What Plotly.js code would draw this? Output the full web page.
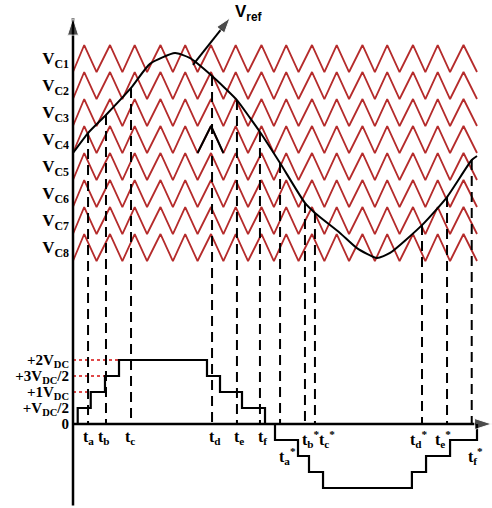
<!DOCTYPE html>
<html><head><meta charset="utf-8">
<script src="https://cdn.plot.ly/plotly-3.0.1.min.js"></script>
<style>html,body{margin:0;padding:0;background:#fff;} #chart{width:492px;height:508px;}</style>
</head><body><div id="chart"></div>
<script>
// ---------------- data (time in degrees of the reference period) ----------------
const carrierNames = ['V<sub>C1</sub>','V<sub>C2</sub>','V<sub>C3</sub>','V<sub>C4</sub>','V<sub>C5</sub>','V<sub>C6</sub>','V<sub>C7</sub>','V<sub>C8</sub>'];
const carrierBase = [3, 2, 1, 0, -1, -2, -3, -4];           // lower edge of each carrier band
const carrierPeaks = [10, 33, 55, 78, 100, 123, 145, 168, 190, 213, 235, 258, 280, 303, 325, 348];
const carrierTroughs = [0, 21, 44, 66, 89, 111, 134, 156, 179, 201, 224, 246, 269, 291, 314, 336, 360];

const vrefT = [0, 13.4, 29.4, 51.7, 68.6, 90.9, 104, 123.9, 146.1, 157.7, 166.6, 184.5, 206.7, 215.6, 237.9, 253, 270.9, 282.5, 311, 333.3, 355.3, 360];
const vrefV = [0, 0.74, 1.41, 2.41, 3.30, 3.70, 3.52, 2.85, 1.96, 1.30, 0.78, -0.37, -1.85, -2.22, -2.96, -3.52, -3.89, -3.70, -2.67, -1.63, -0.26, -0.11];

const crossT = [13.4, 29.4, 51.7, 123.9, 146.1, 166.6, 184.5, 206.7, 215.6, 311, 333.3, 355.3];
const crossV = [0.74, 1.41, 2.41, 2.85, 1.96, 0.78, -0.37, -1.85, -2.22, -2.67, -1.63, -0.26];
const timeLabels = ['t<sub>a</sub>','t<sub>b</sub>','t<sub>c</sub>','t<sub>d</sub>','t<sub>e</sub>','t<sub>f</sub>',
  't<sub>a</sub><sup>*</sup>','t<sub>b</sub><sup>*</sup>','t<sub>c</sub><sup>*</sup>','t<sub>d</sub><sup>*</sup>','t<sub>e</sub><sup>*</sup>','t<sub>f</sub><sup>*</sup>'];

const stairT = [0, 4.2, 15.8, 28.5, 41, 119.4, 131, 150.6, 171.1, 180, 200.5, 210.3, 222.8, 302, 314.6, 336, 360];
const stairV = [0, 0.5, 1, 1.5, 2, 1.5, 1, 0.5, 0, -0.5, -1, -1.5, -2, -1.5, -1, -0.5, 0];   // in V_DC

const levelVals = [0, 0.5, 1, 1.5, 2];
const levelLabels = ['0', '+V<sub>DC</sub>/2', '+1V<sub>DC</sub>', '+3V<sub>DC</sub>/2', '+2V<sub>DC</sub>'];

// ---------------- layout constants ----------------
const X_RANGE = [-2.673, 373.37];
const Y_RANGE = [-2.625, 13.25];     // V_DC axis (lower staircase)
const Y2_RANGE = [-13.148, 5.667];   // carrier band axis (upper part)
function vdcToY2(v) {
  const f = (Y_RANGE[1] - v) / (Y_RANGE[1] - Y_RANGE[0]);
  return Y2_RANGE[1] - f * (Y2_RANGE[1] - Y2_RANGE[0]);
}
const RED = '#b52b2b';
const SERIF = 'Liberation Serif';

const traces = [];

// carriers
const cx = [], cy = [];
carrierBase.forEach(b => {
  for (let i = 0; i < carrierTroughs.length; i++) {
    cx.push(carrierTroughs[i]); cy.push(b);
    if (i < carrierPeaks.length) { cx.push(carrierPeaks[i]); cy.push(b + 1); }
  }
  cx.push(null); cy.push(null);
});
traces.push({x: cx, y: cy, yaxis: 'y2', mode: 'lines', line: {color: RED, width: 1.8}, hoverinfo: 'skip'});

// red dotted level guides
const dx = [], dy = [];
for (let i = 2; i <= 4; i++) { dx.push(0, stairT[i], null); dy.push(stairV[i], stairV[i], null); }
traces.push({x: dx, y: dy, yaxis: 'y', mode: 'lines', line: {color: '#e04848', width: 2, dash: 'dot'}, hoverinfo: 'skip'});

// dashed crossing lines
const zx = [], zy = [];
crossT.forEach((t, i) => { zx.push(t, t, null); zy.push(crossV[i], vdcToY2(0), null); });
traces.push({x: zx, y: zy, yaxis: 'y2', mode: 'lines', line: {color: '#000', width: 2, dash: '10px,6px'}, hoverinfo: 'skip'});

// staircase output
traces.push({x: stairT, y: stairV, yaxis: 'y', mode: 'lines', line: {color: '#000', width: 2.2, shape: 'hv'}, hoverinfo: 'skip'});

// reference
traces.push({x: vrefT, y: vrefV, yaxis: 'y2', mode: 'lines', line: {color: '#000', width: 2, shape: 'spline', smoothing: 0.55}, hoverinfo: 'skip'});

// highlighted carrier segment of V_C4
const hi = 5;
traces.push({x: [carrierTroughs[hi], carrierPeaks[hi], carrierTroughs[hi + 1]], y: [carrierBase[3], carrierBase[3] + 1, carrierBase[3]],
  yaxis: 'y2', mode: 'lines', line: {color: '#000', width: 2}, hoverinfo: 'skip'});

// axes with arrows
traces.push({x: [0, 0], y: [vdcToY2(-2.55), 5.0], yaxis: 'y2', mode: 'lines+markers', cliponaxis: false,
  line: {color: '#000', width: 2.5}, marker: {symbol: ['circle', 'arrow'], size: [0, 18], color: '#000', angleref: 'previous'}, hoverinfo: 'skip'});
traces.push({x: [0, 373.1], y: [0, 0], yaxis: 'y', mode: 'lines+markers', cliponaxis: false,
  line: {color: '#000', width: 2.5}, marker: {symbol: ['circle', 'arrow'], size: [0, 18], color: '#000', angleref: 'previous'}, hoverinfo: 'skip'});
// V_ref pointer
traces.push({x: [106.9, 139.9], y: [3.26, 5.0], yaxis: 'y2', mode: 'lines+markers', cliponaxis: false,
  line: {color: '#000', width: 2}, marker: {symbol: ['circle', 'arrow'], size: [0, 16], color: '#000', angleref: 'previous'}, hoverinfo: 'skip'});

// time labels
const labelOffsets = [[0,0],[-2,0],[-1,0],[3,0],[2,0],[3,0],[7,17],[6,0],[12,0],[-3,0],[-4,0],[4,17]];
const annotations = timeLabels.map((txt, i) => ({
  x: crossT[i], y: 0, xref: 'x', yref: 'y', text: txt, showarrow: false,
  xanchor: 'center', yanchor: 'top', xshift: labelOffsets[i][0], yshift: -2 - labelOffsets[i][1],
  font: {family: SERIF, size: 16, color: '#000', weight: 700}
}));
annotations.push({x: 139.9, y: 5.0, xref: 'x', yref: 'y2', text: 'V<sub>ref</sub>', showarrow: false,
  xanchor: 'left', yanchor: 'middle', xshift: 3, yshift: 5,
  font: {family: 'Liberation Sans', size: 17, color: '#000', weight: 700}});

const layout = {
  width: 492, height: 508,
  margin: {l: 70, r: 0, t: 0, b: 0},
  paper_bgcolor: '#fff', plot_bgcolor: '#fff',
  showlegend: false,
  xaxis: {range: X_RANGE, visible: false, fixedrange: true},
  yaxis: {range: Y_RANGE, showgrid: false, zeroline: false, showline: false, ticks: '',
    tickvals: levelVals, ticktext: levelLabels, tickfont: {family: SERIF, size: 15, color: '#000', weight: 700}, fixedrange: true},
  yaxis2: {range: Y2_RANGE, overlaying: 'y', side: 'left', showgrid: false, zeroline: false, showline: false, ticks: '',
    tickvals: carrierBase.map(b => b + 0.5), ticktext: carrierNames, tickfont: {family: SERIF, size: 17, color: '#000', weight: 700}, fixedrange: true},
  annotations: annotations
};

Plotly.newPlot('chart', traces, layout, {staticPlot: true, displayModeBar: false});
</script>
</body></html>
